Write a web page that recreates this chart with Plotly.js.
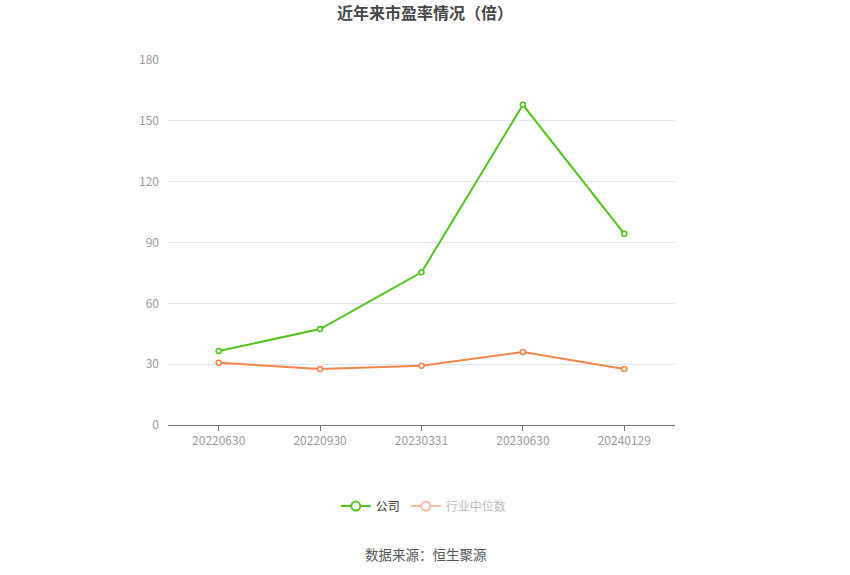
<!DOCTYPE html>
<html>
<head>
<meta charset="utf-8">
<script src="https://cdn.plot.ly/plotly-3.0.1.min.js"></script>
<style>html,body{margin:0;padding:0;background:#fff;}#chart{width:850px;height:575px;}</style>
</head>
<body>
<div id="chart"></div>
<script>
var categories = ["20220630", "20220930", "20230331", "20230630", "20240129"];
var companyPE = [36.5, 47.3, 75.3, 157.9, 94.3];
var industryPE = [30.7, 27.6, 29.2, 36.0, 27.6];
var yTicks = [0, 30, 60, 90, 120, 150, 180];
var seriesNames = ["公司", "行业中位数"];

var font = "'Noto Sans CJK SC', 'Noto Sans', sans-serif";
var green = "#52c41a";
var orange = "#f5844c";
var orangeFaded = "#fbb8a0";

var traces = [
  {
    x: categories, y: companyPE, name: seriesNames[0], type: "scatter", mode: "lines+markers",
    line: {color: green, width: 2},
    marker: {symbol: "circle", size: 5, color: "#fff", line: {color: green, width: 1.6}},
    showlegend: false, hoverinfo: "x+y"
  },
  {
    x: categories, y: industryPE, name: seriesNames[1], type: "scatter", mode: "lines+markers",
    line: {color: orange, width: 2},
    marker: {symbol: "circle", size: 5, color: "#fff", line: {color: orange, width: 1.6}},
    showlegend: false, hoverinfo: "x+y"
  },
  {
    x: [null], y: [null], name: seriesNames[0], type: "scatter", mode: "lines+markers",
    line: {color: green, width: 2},
    marker: {symbol: "circle", size: 9, color: "#fff", line: {color: green, width: 2}},
    legend: "legend", hoverinfo: "skip"
  },
  {
    x: [null], y: [null], name: seriesNames[1], type: "scatter", mode: "lines+markers",
    line: {color: orangeFaded, width: 2},
    marker: {symbol: "circle", size: 9, color: "#fff", line: {color: orangeFaded, width: 2}},
    legend: "legend2", hoverinfo: "skip"
  }
];

var layout = {
  width: 850, height: 575,
  paper_bgcolor: "#fff", plot_bgcolor: "#fff",
  margin: {l: 168, r: 175, t: 60, b: 150},
  font: {family: font, size: 12, color: "#999"},
  title: {text: "<b>近年来市盈率情况（倍）</b>", x: 0.5, xanchor: "center", y: 0.977, yanchor: "middle",
          font: {family: font, size: 16, color: "#464646"}},
  xaxis: {
    type: "category", categoryorder: "array", categoryarray: categories,
    showline: true, linecolor: "#6e7079", linewidth: 1,
    ticks: "outside", ticklen: 5, tickcolor: "#6e7079",
    showgrid: false, zeroline: false,
    tickfont: {family: font, size: 12, color: "#999"},
    range: [-0.5, categories.length - 0.5]
  },
  yaxis: {
    range: [0, 180], tickvals: yTicks, ticktext: yTicks.map(String),
    showgrid: true, gridcolor: "#e0e6f1", gridwidth: 1,
    zeroline: false, showline: false, ticks: "",
    ticklabelstandoff: 8,
    tickfont: {family: font, size: 12, color: "#999"}
  },
  legend: {
    orientation: "h", x: 0.469, xanchor: "right", y: -0.222, yanchor: "middle",
    font: {family: font, size: 12, color: "#333"}, itemwidth: 30, bgcolor: "rgba(0,0,0,0)"
  },
  legend2: {
    orientation: "h", x: 0.469, xanchor: "left", y: -0.222, yanchor: "middle",
    font: {family: font, size: 12, color: "#bbb"}, itemwidth: 30, bgcolor: "rgba(0,0,0,0)"
  },
  annotations: [{
    text: "数据来源：恒生聚源", xref: "paper", yref: "paper", x: 0.508, y: -0.353,
    xanchor: "center", yanchor: "middle", showarrow: false,
    font: {family: font, size: 13.5, color: "#555"}
  }]
};

Plotly.newPlot("chart", traces, layout, {displayModeBar: false, staticPlot: true});
</script>
</body>
</html>
